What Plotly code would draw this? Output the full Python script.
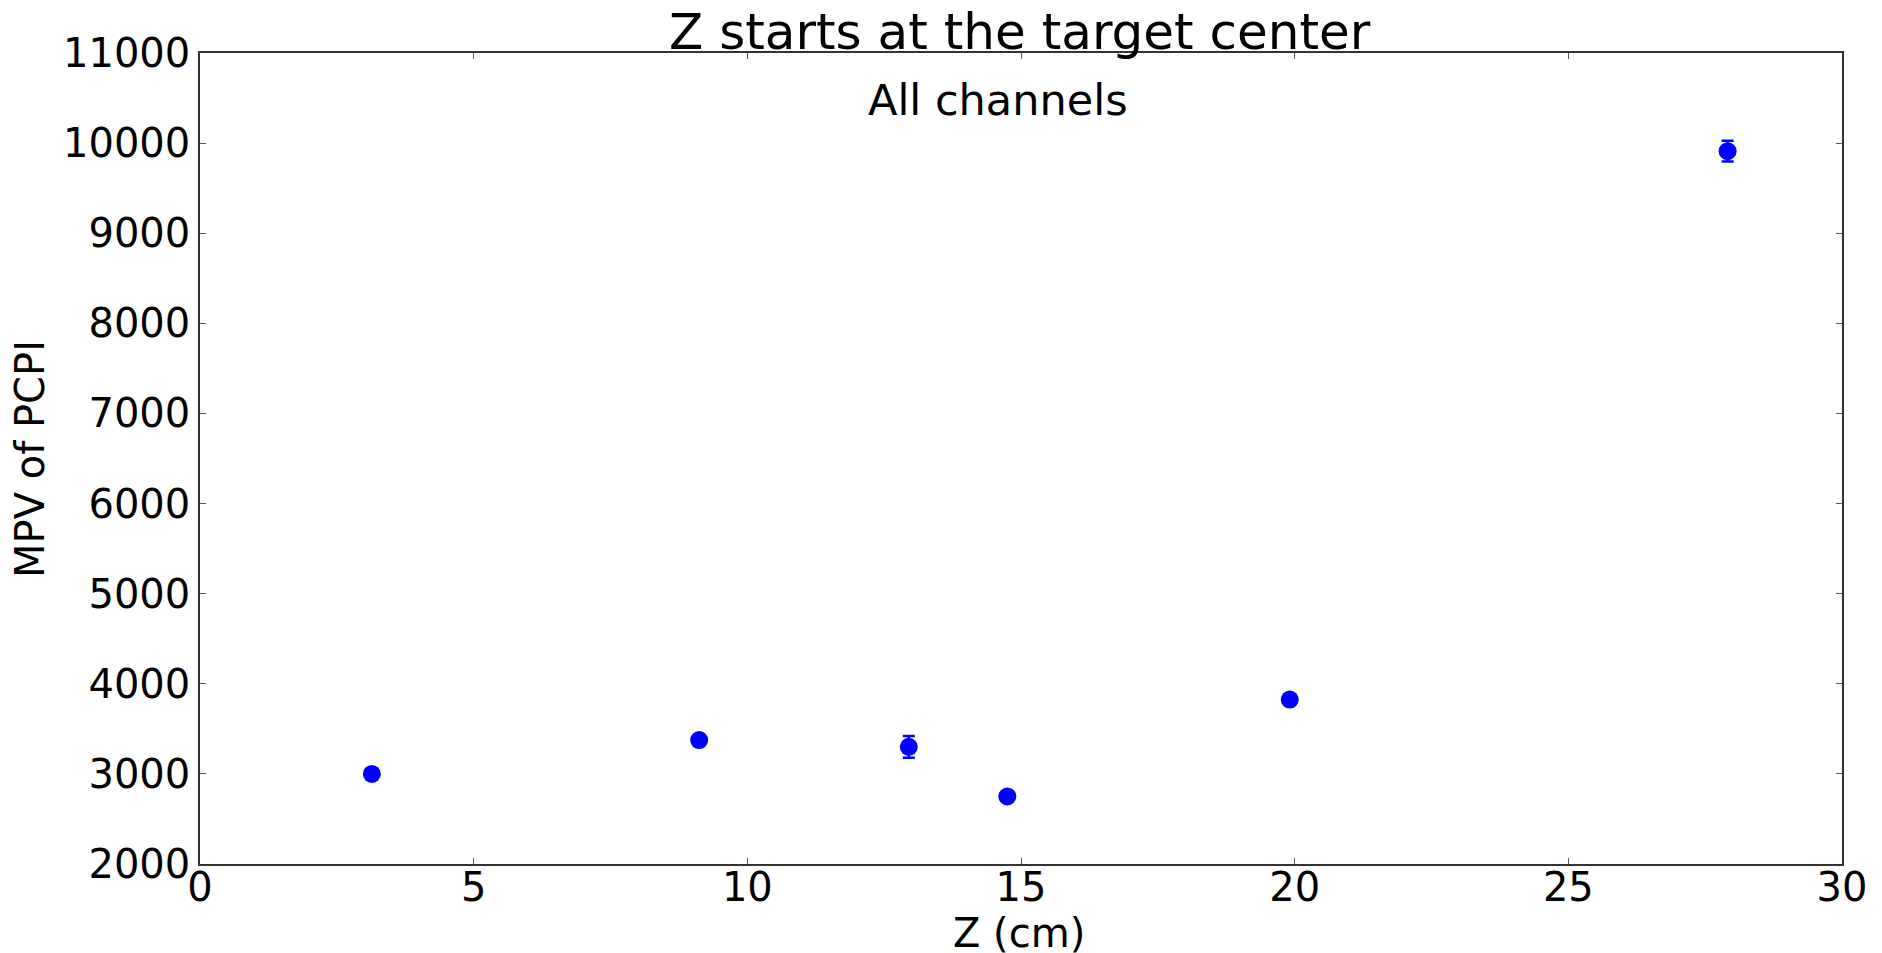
import plotly.graph_objects as go

z_cm = [3.14, 9.12, 12.95, 14.75, 19.91, 27.91]
mpv = [3000, 3375, 3300, 2750, 3825, 9910]
mpv_err = [30, 35, 120, 30, 35, 115]

x_ticks = [0, 5, 10, 15, 20, 25, 30]
y_ticks = [2000, 3000, 4000, 5000, 6000, 7000, 8000, 9000, 10000, 11000]

W, H = 1882, 953
L, R, T, B = 200, 40, 53, 89
pw, ph = W - L - R, H - T - B

def px_x(p):
    return (p - L) / pw

def px_y(p):
    return (H - B - p) / ph

fig = go.Figure()
fig.add_trace(go.Scatter(
    x=z_cm, y=mpv, mode="markers",
    marker=dict(color="#0000ff", size=18, line=dict(width=0)),
    error_y=dict(type="data", array=mpv_err, color="#0000ff", thickness=2.5, width=6),
    showlegend=False,
))

axis_common = dict(
    showgrid=False, zeroline=False, showline=True, linecolor="#333333", linewidth=1.5,
    mirror="allticks", ticks="inside", ticklen=6, tickwidth=1, tickcolor="#555555",
    tickfont=dict(family="DejaVu Sans", size=40, color="black"),
)
fig.update_xaxes(range=[0, 30], tickvals=x_ticks, ticktext=[str(v) for v in x_ticks],
                 ticklabelstandoff=-13, **axis_common)
fig.update_yaxes(range=[2000, 11000], tickvals=y_ticks, ticktext=[str(v) for v in y_ticks],
                 **axis_common)

annotations = [
    dict(text="Z starts at the target center", x=px_x(1020), y=px_y(32), xref="paper", yref="paper",
         showarrow=False, xanchor="center", yanchor="middle",
         font=dict(family="DejaVu Sans", size=50, color="black")),
    dict(text="All channels", x=px_x(998), y=px_y(100), xref="paper", yref="paper",
         showarrow=False, xanchor="center", yanchor="middle",
         font=dict(family="DejaVu Sans", size=43, color="black")),
    dict(text="Z (cm)", x=px_x(1019), y=px_y(933), xref="paper", yref="paper",
         showarrow=False, xanchor="center", yanchor="middle",
         font=dict(family="DejaVu Sans", size=40, color="black")),
    dict(text="MPV of PCPI", x=px_x(30), y=px_y(459), xref="paper", yref="paper",
         showarrow=False, xanchor="center", yanchor="middle", textangle=-90,
         font=dict(family="DejaVu Sans", size=40, color="black")),
]

fig.update_layout(
    width=W, height=H,
    margin=dict(l=L, r=R, t=T, b=B, pad=0),
    plot_bgcolor="white", paper_bgcolor="white",
    annotations=annotations,
)

fig.write_html("out.html", config={"displayModeBar": False})
